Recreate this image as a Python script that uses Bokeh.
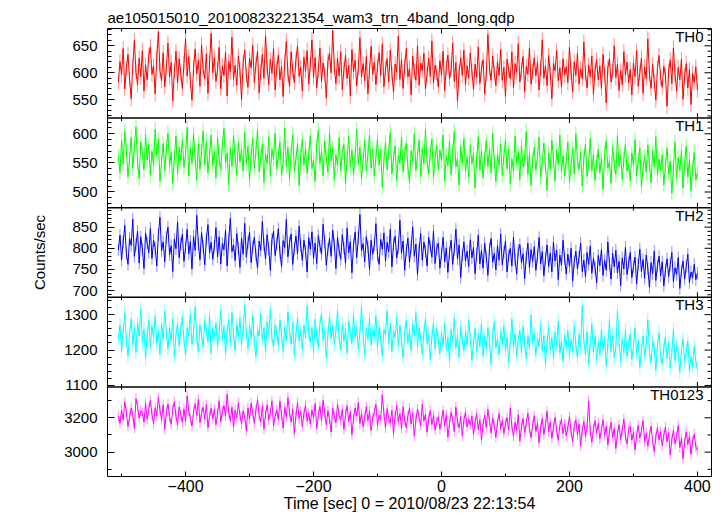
import numpy as np
from bokeh.plotting import figure
from bokeh.models import (LinearAxis, SingleIntervalTicker, FixedTicker, Range1d, Label,
                          ColumnDataSource, Span, CustomJSTickFormatter)
from bokeh.embed import file_html
from bokeh.resources import INLINE

TITLE = "ae105015010_20100823221354_wam3_trn_4band_long.qdp"
X_LABEL = "Time [sec] 0 = 2010/08/23 22:13:54"
Y_LABEL = "Counts/sec"
BANDS = ["TH0", "TH1", "TH2", "TH3", "TH0123"]
COLORS = ["#ff0000", "#00ff00", "#0000ff", "#00ffff", "#ff00ff"]
T_START = -505.0
T_STEP = 2.5
ERRS = [14, 13, 15, 20, 30]
X_RANGE = (-522, 422)
X_MAJOR_STEP = 200
X_MINOR_STEP = 100
Y_RANGES = [(516, 682), (473, 627), (684, 896), (1096, 1349), (2858, 3380)]
Y_MAJOR_STEP = [50, 50, 50, 100, 200]
Y_MINOR_STEP = [10, 10, 10, 20, 100]

th0 = [583, 621, 596, 645, 570, 608, 634, 589, 552, 612, 660, 601, 578, 627, 593, 641, 566, 615, 587, 632,
       648, 597, 613, 561, 629, 676, 604, 585, 637, 574, 610, 655, 592, 619, 548, 603, 640, 581, 626, 599,
       571, 617, 663, 594, 630, 586, 549, 609, 644, 598, 623, 575, 652, 606, 589, 635, 562, 618, 673, 600,
       628, 584, 606, 647, 570, 613, 595, 638, 557, 621, 602, 666, 588, 614, 577, 631, 605, 550, 619, 642,
       596, 573, 627, 609, 651, 582, 616, 640, 563, 601, 634, 590, 669, 611, 578, 625, 599, 645, 568, 608,
       633, 587, 612, 556, 620, 658, 597, 575, 639, 604, 582, 624, 650, 593, 610, 566, 629, 603, 641, 579,
       615, 661, 591, 628, 572, 605, 646, 584, 618, 598, 553, 622, 636, 600, 678, 611, 580, 627, 594, 639,
       569, 606, 632, 589, 614, 557, 643, 602, 623, 576, 609, 665, 592, 617, 585, 630, 561, 604, 649, 597,
       620, 578, 611, 637, 595, 653, 574, 607, 626, 583, 642, 599, 564, 616, 601, 668, 588, 624, 571, 612,
       645, 592, 608, 559, 631, 603, 586, 650, 577, 618, 604, 636, 570, 598, 627, 593, 659, 581, 614, 600,
       574, 622, 596, 640, 567, 610, 633, 589, 605, 655, 584, 619, 547, 601, 628, 595, 642, 578, 613, 590,
       637, 603, 569, 616, 592, 648, 580, 607, 624, 561, 598, 671, 609, 586, 631, 600, 576, 621, 595, 643,
       586, 610, 556, 625, 604, 589, 639, 572, 617, 601, 654, 583, 606, 630, 565, 612, 597, 646, 579, 603,
       628, 594, 619, 568, 608, 661, 590, 613, 576, 632, 598, 552, 617, 604, 641, 585, 609, 574, 626, 596,
       611, 582, 647, 601, 565, 620, 595, 636, 579, 607, 589, 657, 599, 572, 614, 592, 631, 560, 605, 624,
       587, 613, 571, 634, 597, 544, 609, 626, 583, 602, 650, 591, 616, 567, 604, 578, 639, 596, 620, 581,
       606, 559, 618, 593, 641, 575, 600, 627, 562, 611, 589, 663, 598, 571, 615, 584, 549, 608, 632, 590,
       573, 612, 595, 538, 603, 624, 580, 646, 597, 566, 610, 587, 625, 551, 594, 617, 572, 606, 541, 599,
       582, 611, 568]
th1 = [561, 533, 589, 548, 604, 572, 526, 557, 594, 541, 578, 612, 550, 523, 586, 566, 538, 599, 555, 581,
       529, 570, 546, 608, 563, 591, 519, 552, 584, 537, 574, 601, 545, 568, 515, 559, 596, 531, 577, 553,
       590, 542, 566, 611, 528, 575, 549, 600, 558, 521, 583, 539, 569, 605, 547, 587, 533, 562, 598, 545,
       571, 524, 593, 556, 538, 581, 609, 550, 567, 513, 576, 544, 597, 560, 530, 585, 552, 573, 536, 603,
       548, 579, 520, 564, 592, 541, 571, 607, 535, 558, 582, 517, 566, 549, 595, 527, 574, 556, 601, 539,
       563, 586, 529, 551, 610, 544, 577, 522, 568, 599, 536, 557, 583, 511, 562, 590, 546, 575, 532, 565,
       597, 540, 555, 518, 580, 606, 549, 570, 528, 588, 559, 534, 602, 553, 576, 521, 564, 545, 593, 537,
       568, 582, 514, 557, 596, 543, 572, 530, 561, 607, 548, 577, 523, 555, 589, 536, 566, 598, 541, 574,
       527, 560, 591, 546, 573, 508, 554, 585, 538, 569, 603, 531, 558, 579, 520, 563, 549, 594, 535, 567,
       584, 542, 516, 571, 553, 600, 537, 562, 589, 526, 575, 548, 607, 551, 532, 566, 591, 524, 558, 580,
       539, 572, 554, 598, 519, 563, 545, 587, 530, 569, 604, 543, 557, 512, 578, 550, 592, 535, 561, 526,
       581, 548, 566, 507, 556, 595, 538, 571, 524, 560, 588, 544, 573, 533, 601, 552, 518, 565, 546, 583,
       529, 562, 590, 540, 574, 514, 557, 536, 596, 549, 568, 521, 580, 543, 559, 604, 530, 566, 511, 553,
       577, 538, 561, 594, 525, 551, 584, 545, 503, 567, 539, 589, 556, 519, 572, 548, 598, 534, 562, 527,
       555, 586, 517, 546, 575, 531, 600, 553, 539, 569, 510, 558, 582, 527, 548, 592, 537, 564, 520, 551,
       573, 533, 558, 505, 566, 588, 541, 552, 515, 578, 547, 530, 597, 544, 563, 522, 556, 583, 536, 549,
       519, 567, 545, 590, 528, 553, 576, 509, 540, 562, 534, 581, 548, 516, 571, 543, 595, 529, 557, 538,
       564, 512, 546, 575, 531, 553, 498, 541, 586, 524, 559, 537, 571, 507, 548, 579, 526, 556, 502, 540,
       568, 521, 533]
th2 = [796, 831, 772, 815, 854, 788, 762, 823, 807, 869, 781, 809, 840, 765, 827, 798, 752, 836, 812, 790,
       847, 776, 819, 801, 758, 833, 873, 794, 815, 768, 826, 850, 785, 806, 745, 821, 799, 862, 778, 810,
       833, 769, 802, 845, 787, 816, 751, 828, 795, 878, 810, 773, 837, 804, 761, 822, 856, 789, 814, 774,
       805, 849, 780, 827, 763, 811, 797, 842, 758, 820, 871, 792, 808, 771, 835, 800, 755, 824, 786, 859,
       779, 813, 838, 766, 803, 826, 784, 753, 817, 795, 863, 808, 775, 832, 799, 748, 821, 840, 783, 811,
       846, 790, 757, 818, 802, 868, 780, 813, 834, 762, 800, 829, 787, 852, 806, 771, 819, 793, 744, 825,
       798, 839, 776, 812, 764, 830, 805, 786, 857, 815, 760, 797, 823, 781, 843, 809, 752, 826, 795, 774,
       832, 801, 765, 848, 789, 816, 742, 807, 838, 778, 824, 880, 794, 811, 768, 827, 803, 750, 819, 786,
       808, 858, 783, 762, 821, 798, 836, 770, 814, 791, 845, 756, 809, 829, 777, 802, 866, 788, 817, 748,
       795, 824, 767, 803, 850, 781, 810, 738, 796, 835, 772, 815, 793, 758, 826, 804, 779, 841, 764, 799,
       812, 753, 786, 826, 768, 801, 743, 789, 819, 762, 797, 845, 775, 808, 731, 784, 815, 770, 793, 757,
       820, 777, 802, 740, 786, 831, 763, 795, 753, 812, 780, 736, 799, 823, 767, 788, 749, 806, 772, 834,
       761, 791, 817, 744, 782, 800, 758, 826, 773, 739, 795, 809, 766, 787, 728, 779, 812, 754, 797, 769,
       804, 748, 781, 825, 763, 792, 735, 776, 808, 757, 789, 744, 815, 770, 796, 726, 784, 760, 819, 775,
       739, 786, 757, 800, 723, 768, 793, 751, 779, 812, 745, 772, 733, 790, 762, 805, 741, 776, 754, 718,
       783, 759, 797, 736, 771, 748, 815, 764, 727, 788, 756, 795, 742, 769, 712, 777, 751, 802, 738, 765,
       790, 731, 757, 779, 716, 762, 798, 745, 773, 729, 784, 752, 708, 766, 740, 793, 724, 758, 781, 735,
       768, 711, 749, 775, 733, 761, 790, 721, 754, 738, 778, 705, 746, 770, 727, 757, 786, 719, 744, 730,
       762, 726, 741]
th3 = [1232, 1271, 1198, 1254, 1305, 1226, 1183, 1247, 1288, 1215, 1262, 1193, 1278, 1240, 1316, 1221, 1259, 1176, 1243, 1284,
       1207, 1266, 1235, 1297, 1219, 1252, 1188, 1274, 1231, 1310, 1248, 1203, 1261, 1226, 1289, 1180, 1244, 1276, 1212, 1257,
       1293, 1229, 1185, 1264, 1239, 1301, 1216, 1250, 1322, 1237, 1196, 1270, 1245, 1208, 1283, 1254, 1224, 1298, 1191, 1261,
       1236, 1277, 1211, 1249, 1312, 1230, 1267, 1189, 1255, 1286, 1220, 1306, 1243, 1199, 1272, 1238, 1290, 1214, 1259, 1327,
       1247, 1205, 1268, 1233, 1295, 1221, 1181, 1256, 1240, 1302, 1227, 1263, 1195, 1281, 1246, 1317, 1234, 1209, 1273, 1250,
       1213, 1285, 1242, 1196, 1266, 1228, 1308, 1253, 1218, 1279, 1186, 1244, 1291, 1225, 1258, 1201, 1270, 1236, 1326, 1249,
       1222, 1264, 1193, 1287, 1241, 1210, 1275, 1304, 1229, 1257, 1178, 1245, 1296, 1232, 1268, 1216, 1252, 1313, 1238, 1200,
       1271, 1226, 1259, 1192, 1282, 1247, 1219, 1300, 1236, 1265, 1203, 1250, 1324, 1241, 1187, 1262, 1229, 1289, 1214, 1255,
       1238, 1297, 1207, 1266, 1230, 1183, 1258, 1244, 1311, 1218, 1276, 1196, 1252, 1235, 1292, 1211, 1269, 1227, 1179, 1248,
       1284, 1221, 1256, 1199, 1273, 1240, 1305, 1209, 1262, 1231, 1188, 1251, 1290, 1216, 1245, 1174, 1237, 1278, 1204, 1260,
       1226, 1189, 1249, 1213, 1275, 1201, 1237, 1168, 1259, 1222, 1290, 1206, 1243, 1180, 1266, 1228, 1197, 1254, 1215, 1283,
       1234, 1171, 1219, 1261, 1195, 1247, 1210, 1276, 1184, 1238, 1203, 1263, 1225, 1159, 1242, 1279, 1207, 1231, 1187, 1252,
       1216, 1270, 1198, 1237, 1165, 1224, 1288, 1209, 1246, 1182, 1229, 1256, 1193, 1267, 1218, 1175, 1240, 1204, 1299, 1221,
       1247, 1185, 1232, 1211, 1274, 1196, 1240, 1160, 1223, 1264, 1200, 1236, 1177, 1251, 1214, 1281, 1191, 1227, 1168, 1243,
       1209, 1256, 1181, 1230, 1197, 1268, 1213, 1178, 1244, 1205, 1325, 1226, 1186, 1251, 1162, 1219, 1273, 1194, 1238, 1173,
       1222, 1187, 1259, 1201, 1235, 1155, 1215, 1284, 1196, 1242, 1179, 1208, 1311, 1227, 1169, 1231, 1192, 1256, 1183, 1217,
       1246, 1174, 1210, 1263, 1189, 1228, 1151, 1202, 1240, 1182, 1218, 1286, 1196, 1164, 1225, 1207, 1143, 1212, 1249, 1185,
       1161, 1206, 1238, 1176, 1219, 1149, 1193, 1258, 1170, 1214, 1188, 1137, 1202, 1231, 1166, 1197, 1226, 1142, 1183, 1154,
       1210, 1168, 1146]
th0123 = [3210, 3168, 3245, 3186, 3292, 3231, 3150, 3203, 3257, 3214, 3138, 3312, 3266, 3198, 3241, 3229, 3175, 3284, 3192, 3250,
          3301, 3221, 3166, 3259, 3214, 3318, 3245, 3189, 3276, 3133, 3235, 3280, 3207, 3162, 3248, 3294, 3209, 3158, 3263, 3218,
          3173, 3252, 3181, 3327, 3240, 3197, 3152, 3235, 3282, 3214, 3308, 3171, 3229, 3262, 3190, 3277, 3143, 3208, 3256, 3195,
          3249, 3160, 3223, 3299, 3176, 3237, 3270, 3210, 3338, 3229, 3183, 3261, 3146, 3244, 3198, 3287, 3216, 3165, 3240, 3202,
          3124, 3258, 3191, 3285, 3227, 3168, 3246, 3305, 3212, 3175, 3269, 3134, 3220, 3276, 3186, 3231, 3299, 3153, 3208, 3247,
          3188, 3296, 3216, 3141, 3260, 3203, 3318, 3232, 3175, 3250, 3109, 3213, 3287, 3195, 3238, 3149, 3224, 3272, 3181, 3228,
          3164, 3245, 3201, 3283, 3136, 3219, 3266, 3184, 3302, 3229, 3158, 3241, 3192, 3117, 3256, 3207, 3171, 3280, 3214, 3186,
          3248, 3133, 3220, 3271, 3179, 3236, 3102, 3194, 3258, 3210, 3290, 3167, 3226, 3149, 3201, 3264, 3183, 3237, 3126, 3199,
          3232, 3278, 3155, 3215, 3187, 3334, 3224, 3141, 3253, 3196, 3168, 3243, 3108, 3209, 3270, 3177, 3225, 3139, 3264, 3186,
          3140, 3212, 3257, 3165, 3230, 3094, 3189, 3251, 3203, 3156, 3278, 3181, 3221, 3116, 3197, 3242, 3160, 3214, 3128, 3175,
          3206, 3134, 3182, 3245, 3152, 3218, 3088, 3169, 3231, 3190, 3119, 3262, 3178, 3141, 3207, 3095, 3186, 3233, 3147, 3193,
          3157, 3211, 3104, 3176, 3226, 3131, 3189, 3072, 3163, 3215, 3143, 3250, 3180, 3112, 3198, 3155, 3087, 3172, 3224, 3136,
          3184, 3109, 3166, 3201, 3128, 3257, 3150, 3093, 3175, 3132, 3218, 3064, 3148, 3196, 3113, 3171, 3227, 3139, 3085, 3158,
          3212, 3121, 3169, 3054, 3140, 3195, 3103, 3160, 3238, 3117, 3176, 3081, 3146, 3203, 3128, 3069, 3155, 3190, 3106, 3163,
          3095, 3144, 3207, 3118, 3062, 3151, 3188, 3101, 3165, 3037, 3127, 3179, 3092, 3145, 3298, 3123, 3058, 3137, 3183, 3110,
          3168, 3076, 3131, 3189, 3097, 3152, 3043, 3118, 3174, 3085, 3139, 3021, 3105, 3160, 3073, 3128, 3193, 3091, 3047, 3134,
          3149, 3070, 3116, 3012, 3097, 3156, 3081, 3126, 3183, 3059, 3111, 3034, 3098, 3150, 3066, 3003, 3089, 3142, 3071, 3120,
          3038, 3099, 3146, 3061, 3112, 2983, 3075, 3127, 3048, 3093, 3154, 3026, 3080, 2962, 3057, 3118, 3044, 3091, 2987, 3063,
          3104, 3031, 3012]
SERIES = [th0, th1, th2, th3, th0123]

FONT = "Liberation Sans"
N = len(SERIES)


def vpos(k, val):
    lo, hi = Y_RANGES[k]
    return (N - 1 - k) + (np.asarray(val, dtype=float) - lo) / (hi - lo)


def ticks_in(lo, hi, step):
    start = np.ceil(lo / step) * step
    return np.arange(start, hi + 1e-9, step)


p = figure(output_backend="svg", toolbar_location=None, width=724, height=516,
           x_range=Range1d(*X_RANGE), y_range=Range1d(0, N),
           x_axis_location=None, y_axis_location=None,
           min_border_left=107, min_border_right=13, min_border_top=28, min_border_bottom=40,
           background_fill_color="white", border_fill_color="white", title=TITLE)
p.xgrid.visible = False
p.ygrid.visible = False
p.outline_line_color = "black"
p.outline_line_width = 1
p.outline_line_alpha = 1

p.title.text_font = FONT
p.title.text_font_size = "15px"
p.title.text_font_style = "normal"
p.title.text_color = "black"
p.title.align = "left"
p.title.offset = 0
p.title.standoff = 6

# y ticks for every panel, placed on one shared virtual scale
maj_pos, maj_lab, min_pos = [], [], []
for k in range(N):
    lo, hi = Y_RANGES[k]
    majors = ticks_in(lo, hi, Y_MAJOR_STEP[k])
    minors = [m for m in ticks_in(lo, hi, Y_MINOR_STEP[k]) if m % Y_MAJOR_STEP[k] != 0]
    maj_pos += [float(v) for v in vpos(k, majors)]
    maj_lab += [str(int(v)) for v in majors]
    min_pos += [float(v) for v in vpos(k, minors)]

left = LinearAxis(ticker=FixedTicker(ticks=maj_pos, minor_ticks=min_pos),
                  formatter=CustomJSTickFormatter(args=dict(pos=maj_pos, labs=maj_lab), code="""
    let best = 0, bd = 1e9;
    for (let i = 0; i < pos.length; i++) {
        const d = Math.abs(pos[i] - tick);
        if (d < bd) { bd = d; best = i; }
    }
    return labs[best];
"""))
left.major_tick_in = 7
left.major_tick_out = 0
left.minor_tick_in = 4
left.minor_tick_out = 0
left.axis_line_color = None
left.major_tick_line_color = "black"
left.minor_tick_line_color = "black"
left.major_label_text_font = FONT
left.major_label_text_font_size = "15px"
left.major_label_text_color = "black"
left.major_label_standoff = 10
left.axis_label = Y_LABEL
left.axis_label_text_font = FONT
left.axis_label_text_font_size = "15px"
left.axis_label_text_font_style = "normal"
left.axis_label_text_color = "black"
left.axis_label_standoff = 13
p.add_layout(left, "left")

bottom = LinearAxis(ticker=SingleIntervalTicker(interval=X_MAJOR_STEP, num_minor_ticks=X_MAJOR_STEP // X_MINOR_STEP))
bottom.major_tick_in = 5
bottom.major_tick_out = 0
bottom.minor_tick_in = 3
bottom.minor_tick_out = 0
bottom.axis_line_color = None
bottom.major_tick_line_color = "black"
bottom.minor_tick_line_color = "black"
bottom.major_label_text_font = FONT
bottom.major_label_text_font_size = "16px"
bottom.major_label_text_color = "black"
bottom.major_label_standoff = 3
bottom.axis_label = X_LABEL
bottom.axis_label_text_font = FONT
bottom.axis_label_text_font_size = "16px"
bottom.axis_label_text_font_style = "normal"
bottom.axis_label_text_color = "black"
bottom.axis_label_standoff = 0
p.add_layout(bottom, "below")

# data, each panel on its own range mapped into its slot
for k in range(N):
    lo, hi = Y_RANGES[k]
    span = hi - lo
    name = "r%d" % k
    p.extra_y_ranges[name] = Range1d(lo - (N - 1 - k) * span, hi + k * span)
    v = np.array(SERIES[k], dtype=float)
    t = T_START + T_STEP * np.arange(len(v))
    e = ERRS[k]
    src = ColumnDataSource(dict(t=t, v=v, lo=v - e, hi=v + e))
    p.segment("t", "lo", "t", "hi", source=src, line_color=COLORS[k], line_alpha=0.45,
              line_width=1, y_range_name=name)
    p.line("t", "v", source=src, line_color=COLORS[k], line_width=1, y_range_name=name)
    p.add_layout(Label(x=X_RANGE[1], y=hi, y_range_name=name, text=BANDS[k],
                       text_align="right", text_baseline="top", x_offset=-8, y_offset=1,
                       text_font=FONT, text_font_size="15px", text_color="black"))

# panel separators
for b in range(1, N):
    p.add_layout(Span(location=b, dimension="width", line_color="black", line_width=1.5))

# right-side y ticks (inward)
p.scatter(x=[X_RANGE[1]] * len(maj_pos), y=maj_pos, marker="dash", size=14,
          line_color="black", line_width=1)
p.scatter(x=[X_RANGE[1]] * len(min_pos), y=min_pos, marker="dash", size=8,
          line_color="black", line_width=1)

# x ticks at the top edge and at every panel boundary (both sides)
xmaj = [float(x) for x in ticks_in(X_RANGE[0], X_RANGE[1], X_MAJOR_STEP)]
xmin = [float(x) for x in ticks_in(X_RANGE[0], X_RANGE[1], X_MINOR_STEP) if x % X_MAJOR_STEP != 0]
for b in range(1, N + 1):
    p.scatter(x=xmaj, y=[b] * len(xmaj), marker="dash", angle=np.pi / 2, size=10,
              line_color="black", line_width=1)
    p.scatter(x=xmin, y=[b] * len(xmin), marker="dash", angle=np.pi / 2, size=6,
              line_color="black", line_width=1)

open("out.html", "w").write(file_html(p, INLINE))
